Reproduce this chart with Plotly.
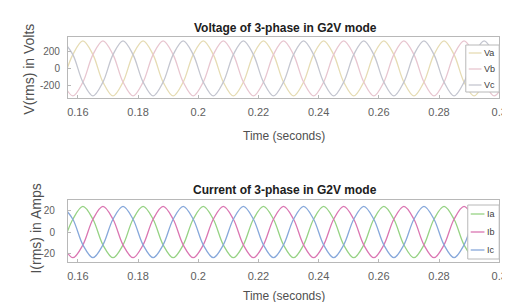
import plotly.graph_objects as go

# ---- data (samples every 1/6 cycle of 50 Hz) ----
time_s = [0.15500, 0.15833, 0.16167, 0.16500, 0.16833, 0.17167, 0.17500, 0.17833,
          0.18167, 0.18500, 0.18833, 0.19167, 0.19500, 0.19833, 0.20167, 0.20500,
          0.20833, 0.21167, 0.21500, 0.21833, 0.22167, 0.22500, 0.22833, 0.23167,
          0.23500, 0.23833, 0.24167, 0.24500, 0.24833, 0.25167, 0.25500, 0.25833,
          0.26167, 0.26500, 0.26833, 0.27167, 0.27500, 0.27833, 0.28167, 0.28500,
          0.28833, 0.29167, 0.29500, 0.29833, 0.30167]

va = [-162, 162, 325, 162, -162, -325, -162, 162, 325, 162, -162, -325,
      -162, 162, 325, 162, -162, -325, -162, 162, 325, 162, -162, -325,
      -162, 162, 325, 162, -162, -325, -162, 162, 325, 162, -162, -325,
      -162, 162, 325, 162, -162, -325, -162, 162, 325]
vb = [-162, -325, -162, 162, 325, 162, -162, -325, -162, 162, 325, 162,
      -162, -325, -162, 162, 325, 162, -162, -325, -162, 162, 325, 162,
      -162, -325, -162, 162, 325, 162, -162, -325, -162, 162, 325, 162,
      -162, -325, -162, 162, 325, 162, -162, -325, -162]
vc = [325, 162, -162, -325, -162, 162, 325, 162, -162, -325, -162, 162,
      325, 162, -162, -325, -162, 162, 325, 162, -162, -325, -162, 162,
      325, 162, -162, -325, -162, 162, 325, 162, -162, -325, -162, 162,
      325, 162, -162, -325, -162, 162, 325, 162, -162]

ia = [-12, 12, 24, 12, -12, -24, -12, 12, 24, 12, -12, -24,
      -12, 12, 24, 12, -12, -24, -12, 12, 24, 12, -12, -24,
      -12, 12, 24, 12, -12, -24, -12, 12, 24, 12, -12, -24,
      -12, 12, 24, 12, -12, -24, -12, 12, 24]
ib = [-12, -24, -12, 12, 24, 12, -12, -24, -12, 12, 24, 12,
      -12, -24, -12, 12, 24, 12, -12, -24, -12, 12, 24, 12,
      -12, -24, -12, 12, 24, 12, -12, -24, -12, 12, 24, 12,
      -12, -24, -12, 12, 24, 12, -12, -24, -12]
ic = [24, 12, -12, -24, -12, 12, 24, 12, -12, -24, -12, 12,
      24, 12, -12, -24, -12, 12, 24, 12, -12, -24, -12, 12,
      24, 12, -12, -24, -12, 12, 24, 12, -12, -24, -12, 12,
      24, 12, -12, -24, -12, 12, 24, 12, -12]

x_ticks = [0.16, 0.18, 0.2, 0.22, 0.24, 0.26, 0.28, 0.3]
x_tick_labels = ["0.16", "0.18", "0.2", "0.22", "0.24", "0.26", "0.28", "0.3"]
v_ticks = [-200, 0, 200]
v_tick_labels = ["-200", "0", "200"]
i_ticks = [-20, 0, 20]
i_tick_labels = ["-20", "0", "20"]

v_names = ["Va", "Vb", "Vc"]
i_names = ["Ia", "Ib", "Ic"]

# ---- styling ----
FONT = "Liberation Sans, Arial, sans-serif"
W, H = 510, 302
v_colors = ["rgb(230,220,180)", "rgb(232,198,208)", "rgb(196,198,208)"]
i_colors = ["rgb(150,210,132)", "rgb(218,118,178)", "rgb(135,168,218)"]

fig = go.Figure()
for name, ys, col in zip(v_names, [va, vb, vc], v_colors):
    fig.add_trace(go.Scatter(x=time_s, y=ys, name=name, mode="lines", showlegend=False,
                             line=dict(color=col, width=1.3, shape="spline"),
                             xaxis="x", yaxis="y"))
for name, ys, col in zip(i_names, [ia, ib, ic], i_colors):
    fig.add_trace(go.Scatter(x=time_s, y=ys, name=name, mode="lines", showlegend=False,
                             line=dict(color=col, width=1.3, shape="spline"),
                             xaxis="x2", yaxis="y2"))

def px_x(p):
    return p / W

def px_y(p):
    return 1 - p / H

xdom = [px_x(60), px_x(499)]
axis_common = dict(showline=True, linecolor="#b8b8b8", linewidth=1, mirror=True,
                   ticks="inside", ticklen=3, tickcolor="#b8b8b8",
                   showgrid=False, zeroline=False)
xtickfont = dict(family=FONT, size=11, color="#606060")
ytickfont = dict(family=FONT, size=10, color="#606060")

fig.update_layout(
    width=W, height=H, margin=dict(l=0, r=0, t=0, b=0),
    paper_bgcolor="white", plot_bgcolor="white",
    font=dict(family=FONT),
    showlegend=False,
    xaxis=dict(domain=xdom, range=[0.1567, 0.3], tickvals=x_ticks, ticktext=x_tick_labels,
               anchor="y", ticklabelstandoff=4, tickfont=xtickfont, **axis_common),
    yaxis=dict(domain=[px_y(90), px_y(29)], range=[-350, 370], tickvals=v_ticks,
               ticktext=[s + "\u2002" for s in v_tick_labels],
               anchor="x", tickfont=ytickfont, **axis_common),
    xaxis2=dict(domain=xdom, range=[0.1567, 0.3], tickvals=x_ticks, ticktext=x_tick_labels,
                anchor="y2", ticklabelstandoff=4, tickfont=xtickfont, **axis_common),
    yaxis2=dict(domain=[px_y(254), px_y(192)], range=[-28, 30], tickvals=i_ticks,
                ticktext=[s + "\u2002\u2002" for s in i_tick_labels],
                anchor="x2", tickfont=ytickfont, **axis_common),
)

anns = [
    dict(text="<b>Voltage of 3-phase in G2V mode</b>", x=px_x(281), y=px_y(20),
         font=dict(family=FONT, size=12, color="#202020")),
    dict(text="<b>Current of 3-phase in G2V mode</b>", x=px_x(281), y=px_y(182),
         font=dict(family=FONT, size=12, color="#202020")),
    dict(text="Time (seconds)", x=px_x(280), y=px_y(128),
         font=dict(family=FONT, size=12, color="#505050")),
    dict(text="Time (seconds)", x=px_x(280), y=px_y(288),
         font=dict(family=FONT, size=12, color="#505050")),
    dict(text="V(rms) in Volts", x=px_x(20), y=px_y(61), textangle=-90,
         font=dict(family=FONT, size=14, color="#505050")),
    dict(text="I(rms) in Amps", x=px_x(27), y=px_y(221), textangle=-90,
         font=dict(family=FONT, size=14, color="#505050")),
]
for a in anns:
    fig.add_annotation(xref="paper", yref="paper", showarrow=False,
                       xanchor="center", yanchor="middle", **a)

# ---- compact MATLAB-style legends (box, line samples, labels) ----
def add_legend(names, colors, box, rows, line_x, text_x):
    x0, y0, x1, y1 = box
    fig.add_shape(type="rect", xref="paper", yref="paper",
                  x0=px_x(x0), x1=px_x(x1), y0=px_y(y1), y1=px_y(y0),
                  line=dict(color="#b8b8b8", width=1), fillcolor="white", layer="above")
    for name, col, ry in zip(names, colors, rows):
        fig.add_shape(type="line", xref="paper", yref="paper",
                      x0=px_x(line_x[0]), x1=px_x(line_x[1]), y0=px_y(ry), y1=px_y(ry),
                      line=dict(color=col, width=1.3), layer="above")
        fig.add_annotation(xref="paper", yref="paper", showarrow=False,
                           x=px_x(text_x), y=px_y(ry), xanchor="left", yanchor="middle",
                           text=name, font=dict(family=FONT, size=9, color="#404040"))

add_legend(v_names, v_colors, (465, 37, 499, 84), [45, 61, 77], (468, 481), 482)
add_legend(i_names, i_colors, (467, 197, 499, 251), [206, 224, 242], (470, 484), 485)

fig.write_html("out.html")
